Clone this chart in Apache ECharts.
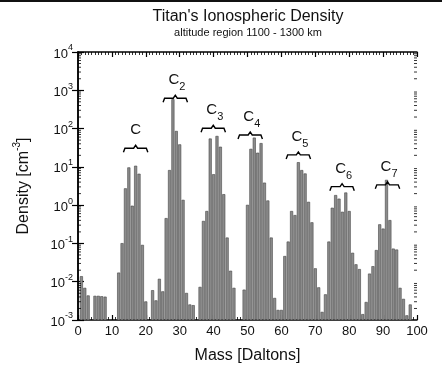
<!DOCTYPE html>
<html><head><meta charset="utf-8">
<script src="https://cdn.jsdelivr.net/npm/echarts@6/dist/echarts.min.js"></script>
<style>html,body{margin:0;padding:0;background:#fff}#c{width:442px;height:390px}</style>
</head><body><div id="c"></div>
<script>
// ---- data ----
const masses = [];
for (let i = 1; i <= 99; i++) masses.push(i);
const density = [
  0.0137, 0.0068, 0.0043, null, 0.0042, 0.0042, 0.0041, 0.0040, null, null,      // 1-10
  null, 0.017, 0.10, 2.7, 9.5, 0.95, 10.5, 6.5, 0.09, 0.003,                      // 11-20
  null, 0.0059, 0.0032, 0.0117, 0.0055, 0.45, 8.1, 575, 85, 38,                    // 21-30
  1.35, 0.005, 0.0025, 0.0024, null, 0.0072, 0.38, 0.69, 54, 6.3,                  // 31-40
  63, 33, 1.9, 0.14, 0.019, 0.0068, null, null, 0.0061, 1.0,                       // 41-50
  29, 57, 23, 41, 3.8, 1.3, 0.14, 0.0037, 0.0018, 0.0018,                          // 51-60
  0.046, 0.11, 0.69, 0.54, 13, 8.1, 6.6, 1.2, 0.35, 0.022,                         // 61-70
  0.007, 0.0016, 0.0046, 0.11, 0.84, 1.8, 1.45, 0.66, 2.1, 0.69,                   // 71-80
  0.056, 0.028, 0.021, 0.0014, 0.0029, 0.016, 0.025, 0.066, 0.31, 0.24,            // 81-90
  4.5, 0.4, 0.072, 0.068, 0.0068, 0.0035, 0.0013, 0.0025, null                     // 91-99
];
const xTickLabels = [0, 10, 20, 30, 40, 50, 60, 70, 80, 90, 100];
const yExponents = [-3, -2, -1, 0, 1, 2, 3, 4];
const groupBase = ['C', 'C', 'C', 'C', 'C', 'C', 'C'];
const groupSub = ['', '2', '3', '4', '5', '6', '7'];
const groupCenter = [17.0, 28.7, 39.9, 50.8, 65.0, 77.9, 91.3];
const groupLevel = [30.6, 622, 102, 68, 20.5, 3.04, 3.39];

const titleText = "Titan's Ionospheric Density";
const subtitleText = 'altitude region 1100 - 1300 km';

// ---- build ----
const yMin = Math.pow(10, yExponents[0]);
const yMax = Math.pow(10, yExponents[yExponents.length - 1]);
const barData = [];
masses.forEach((m, i) => { if (density[i] != null) barData.push([m, density[i]]); });
const minorVals = [];
for (let e = yExponents[0]; e < yExponents[yExponents.length - 1]; e++) {
  for (let k = 2; k <= 9; k++) minorVals.push([0, k * Math.pow(10, e)]);
}
const groupData = groupCenter.map((c, i) => [c, groupLevel[i], i]);

const FONT = '"Liberation Sans", Arial, Helvetica, sans-serif';
const chart = echarts.init(document.getElementById('c'), null, {renderer: 'canvas'});

const axisLineStyle = {color: '#000', width: 1.5};
chart.setOption({
  animation: false,
  backgroundColor: '#fff',
  textStyle: {fontFamily: FONT},
  grid: {left: 78, right: 25, top: 52, bottom: 70},
  graphic: [
    {type: 'rect', left: 0, top: 0, shape: {width: 442, height: 2}, style: {fill: '#111'}},
    {type: 'text', x: 248, y: 17, style: {text: titleText, font: '16px ' + FONT, fill: '#111', align: 'center', verticalAlign: 'middle'}},
    {type: 'text', x: 248, y: 33, style: {text: subtitleText, font: '11px ' + FONT, fill: '#111', align: 'center', verticalAlign: 'middle'}}
  ],
  xAxis: [{
    type: 'value', min: 0, max: 100, interval: 10, position: 'bottom',
    axisLine: {lineStyle: axisLineStyle},
    axisTick: {inside: true, length: 5, lineStyle: {color: '#000', width: 1.2}},
    minorTick: {show: true, splitNumber: 10, length: 3, lineStyle: {color: '#000', width: 0.8}},
    splitLine: {show: false},
    axisLabel: {color: '#111', fontSize: 13, margin: 5, fontFamily: FONT,
      formatter: v => xTickLabels.indexOf(v) >= 0 ? String(v) : ''},
    name: 'Mass [Daltons]', nameLocation: 'middle', nameGap: 28,
    nameTextStyle: {fontSize: 16, color: '#111', fontFamily: FONT}
  }, {
    type: 'value', min: 0, max: 100, interval: 10, position: 'top',
    axisLine: {lineStyle: axisLineStyle},
    axisTick: {inside: true, length: 5, lineStyle: {color: '#000', width: 1.2}},
    minorTick: {show: true, splitNumber: 10, length: 3, lineStyle: {color: '#000', width: 0.8}},
    splitLine: {show: false}, axisLabel: {show: false}
  }],
  yAxis: [{
    type: 'log', logBase: 10, min: yMin, max: yMax, splitNumber: 7, position: 'left',
    axisLine: {lineStyle: axisLineStyle},
    axisTick: {inside: true, length: 6, lineStyle: {color: '#000', width: 1.2}},
    splitLine: {show: false},
    axisLabel: {
      margin: 5, color: '#111', fontFamily: FONT,
      formatter: v => '{b|10}{s|' + Math.round(Math.log10(v)) + '}',
      rich: {
        b: {fontSize: 13, lineHeight: 17, verticalAlign: 'bottom', fontFamily: FONT, color: '#111'},
        s: {fontSize: 9, lineHeight: 9, verticalAlign: 'top', fontFamily: FONT, color: '#111'}
      }
    },
    name: '{a|Density [cm}{s|-3}{a|]}', nameLocation: 'middle', nameGap: 46,
    nameTextStyle: {
      rich: {
        a: {fontSize: 16, lineHeight: 20, verticalAlign: 'bottom', fontFamily: FONT, color: '#111'},
        s: {fontSize: 10, lineHeight: 11, verticalAlign: 'top', fontFamily: FONT, color: '#111'}
      }
    }
  }, {
    type: 'log', logBase: 10, min: yMin, max: yMax, splitNumber: 7, position: 'right',
    axisLine: {lineStyle: axisLineStyle},
    axisTick: {inside: true, length: 6, lineStyle: {color: '#000', width: 1.2}},
    splitLine: {show: false}, axisLabel: {show: false}
  }],
  series: [{
    type: 'custom', name: 'density', xAxisIndex: 0, yAxisIndex: 0,
    data: barData, clip: true,
    renderItem: function (params, api) {
      const m = api.value(0), v = api.value(1);
      const top = api.coord([m, v]);
      const base = api.coord([m, yMin]);
      const w = api.size([1, 1])[0] * 0.72;
      return {type: 'rect', shape: {x: top[0] - w / 2, y: top[1], width: w, height: base[1] - top[1]},
        style: {fill: '#8c8c8c', stroke: '#454545', lineWidth: 0.6}};
    }
  }, {
    type: 'custom', name: 'minor', xAxisIndex: 0, yAxisIndex: 0, data: minorVals, clip: false, silent: true,
    renderItem: function (params, api) {
      const pl = api.coord([0, api.value(1)]);
      const pr = api.coord([100, api.value(1)]);
      return {type: 'group', children: [
        {type: 'line', shape: {x1: pl[0], y1: pl[1], x2: pl[0] + 3, y2: pl[1]}, style: {stroke: '#000', lineWidth: 0.8}},
        {type: 'line', shape: {x1: pr[0], y1: pr[1], x2: pr[0] - 3, y2: pr[1]}, style: {stroke: '#000', lineWidth: 0.8}}
      ]};
    }
  }, {
    type: 'custom', name: 'groups', xAxisIndex: 0, yAxisIndex: 0, data: groupData, clip: false, silent: true,
    renderItem: function (params, api) {
      const idx = api.value(2);
      const p = api.coord([api.value(0), api.value(1)]);
      const hw = api.size([3.6, 1])[0];
      const cx = p[0], cy = p[1];
      const sub = groupSub[idx];
      const children = [{
        type: 'polyline',
        shape: {points: [[cx - hw, cy + 4], [cx - hw + 1.5, cy], [cx - 2, cy], [cx, cy - 3], [cx + 2, cy], [cx + hw - 1.5, cy], [cx + hw, cy + 4]]},
        style: {stroke: '#000', lineWidth: 1.4, fill: null}
      }, {
        type: 'text', x: sub ? cx - 1.5 : cx, y: cy - 18,
        style: {text: groupBase[idx], font: '15px ' + FONT, fill: '#111', align: 'center', verticalAlign: 'middle'}
      }];
      if (sub) children.push({
        type: 'text', x: cx + 7, y: cy - 11,
        style: {text: sub, font: '11px ' + FONT, fill: '#111', align: 'center', verticalAlign: 'middle'}
      });
      return {type: 'group', children: children};
    }
  }]
});
</script>
</body></html>
